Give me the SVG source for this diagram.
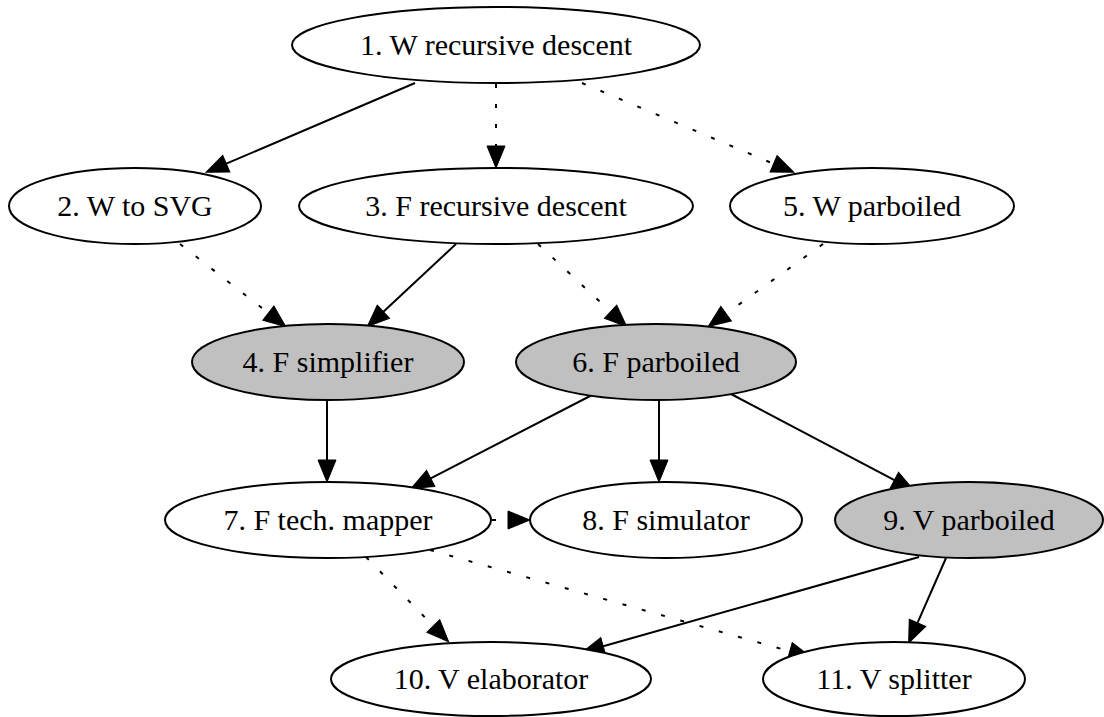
<svg xmlns="http://www.w3.org/2000/svg" width="1104" height="717" viewBox="0 0 1104 717">
<style>
.n ellipse{fill:#ffffff;stroke:#000;stroke-width:2}
.g ellipse{fill:#c0c0c0}
.n text{font-family:"Liberation Serif","Times New Roman",serif;font-size:30px;text-anchor:middle;fill:#000}
.e{stroke:#000;stroke-width:2;fill:none;marker-end:url(#ah)}
.d{stroke-dasharray:4,16}
</style>
<defs>
<marker id="ah" markerUnits="userSpaceOnUse" markerWidth="24" markerHeight="20" refX="0" refY="9" orient="auto" overflow="visible">
<path d="M0,0 L22,9 L0,18 z" fill="#000" stroke="#000" stroke-width="1"/>
</marker>
</defs>
<rect width="1104" height="717" fill="#fff"/>
<g id="edges">
<line class="e" x1="415" y1="83" x2="226.3" y2="163.7"/>
<line class="e d" x1="496" y1="84" x2="496" y2="146"/>
<line class="e d" x1="582" y1="83" x2="773.6" y2="163.8"/>
<line class="e d" x1="180" y1="244" x2="268.4" y2="313.1"/>
<line class="e" x1="456" y1="244" x2="383.4" y2="311.7"/>
<line class="e d" x1="538" y1="244" x2="610.6" y2="311.7"/>
<line class="e d" x1="823" y1="244" x2="726.1" y2="313.7"/>
<line class="e" x1="327" y1="400" x2="327" y2="460"/>
<line class="e" x1="594" y1="394" x2="430.7" y2="478.4"/>
<line class="e" x1="659" y1="400" x2="659" y2="460"/>
<line class="e" x1="731" y1="394" x2="894.4" y2="480.2"/>
<line class="e d" x1="492" y1="520" x2="508" y2="520"/>
<line class="e d" x1="366" y1="557" x2="433.3" y2="626"/>
<line class="e d" x1="430" y1="550" x2="789.8" y2="651.3"/>
<line class="e" x1="919" y1="557" x2="603.2" y2="646.3"/>
<line class="e" x1="946" y1="558" x2="917.5" y2="622.8"/>
</g>
<g id="node1" class="n"><ellipse cx="496" cy="45" rx="204" ry="38"/><text x="496" y="55">1. W recursive descent</text></g>
<g id="node2" class="n"><ellipse cx="135" cy="206" rx="126" ry="38"/><text x="135" y="216">2. W to SVG</text></g>
<g id="node3" class="n"><ellipse cx="496" cy="206" rx="197" ry="38"/><text x="496" y="216">3. F recursive descent</text></g>
<g id="node5" class="n"><ellipse cx="872" cy="206" rx="142" ry="38"/><text x="872" y="216">5. W parboiled</text></g>
<g id="node4" class="n g"><ellipse cx="328" cy="362" rx="136" ry="38"/><text x="328" y="372">4. F simplifier</text></g>
<g id="node6" class="n g"><ellipse cx="656" cy="362" rx="140" ry="38"/><text x="656" y="372">6. F parboiled</text></g>
<g id="node7" class="n"><ellipse cx="328" cy="520" rx="163" ry="38"/><text x="328" y="530">7. F tech. mapper</text></g>
<g id="node8" class="n"><ellipse cx="666" cy="520" rx="136" ry="38"/><text x="666" y="530">8. F simulator</text></g>
<g id="node9" class="n g"><ellipse cx="969" cy="520" rx="134" ry="38"/><text x="969" y="530">9. V parboiled</text></g>
<g id="node10" class="n"><ellipse cx="491" cy="679" rx="160" ry="37"/><text x="491" y="689">10. V elaborator</text></g>
<g id="node11" class="n"><ellipse cx="894" cy="679" rx="131" ry="37"/><text x="894" y="689">11. V splitter</text></g>
</svg>
